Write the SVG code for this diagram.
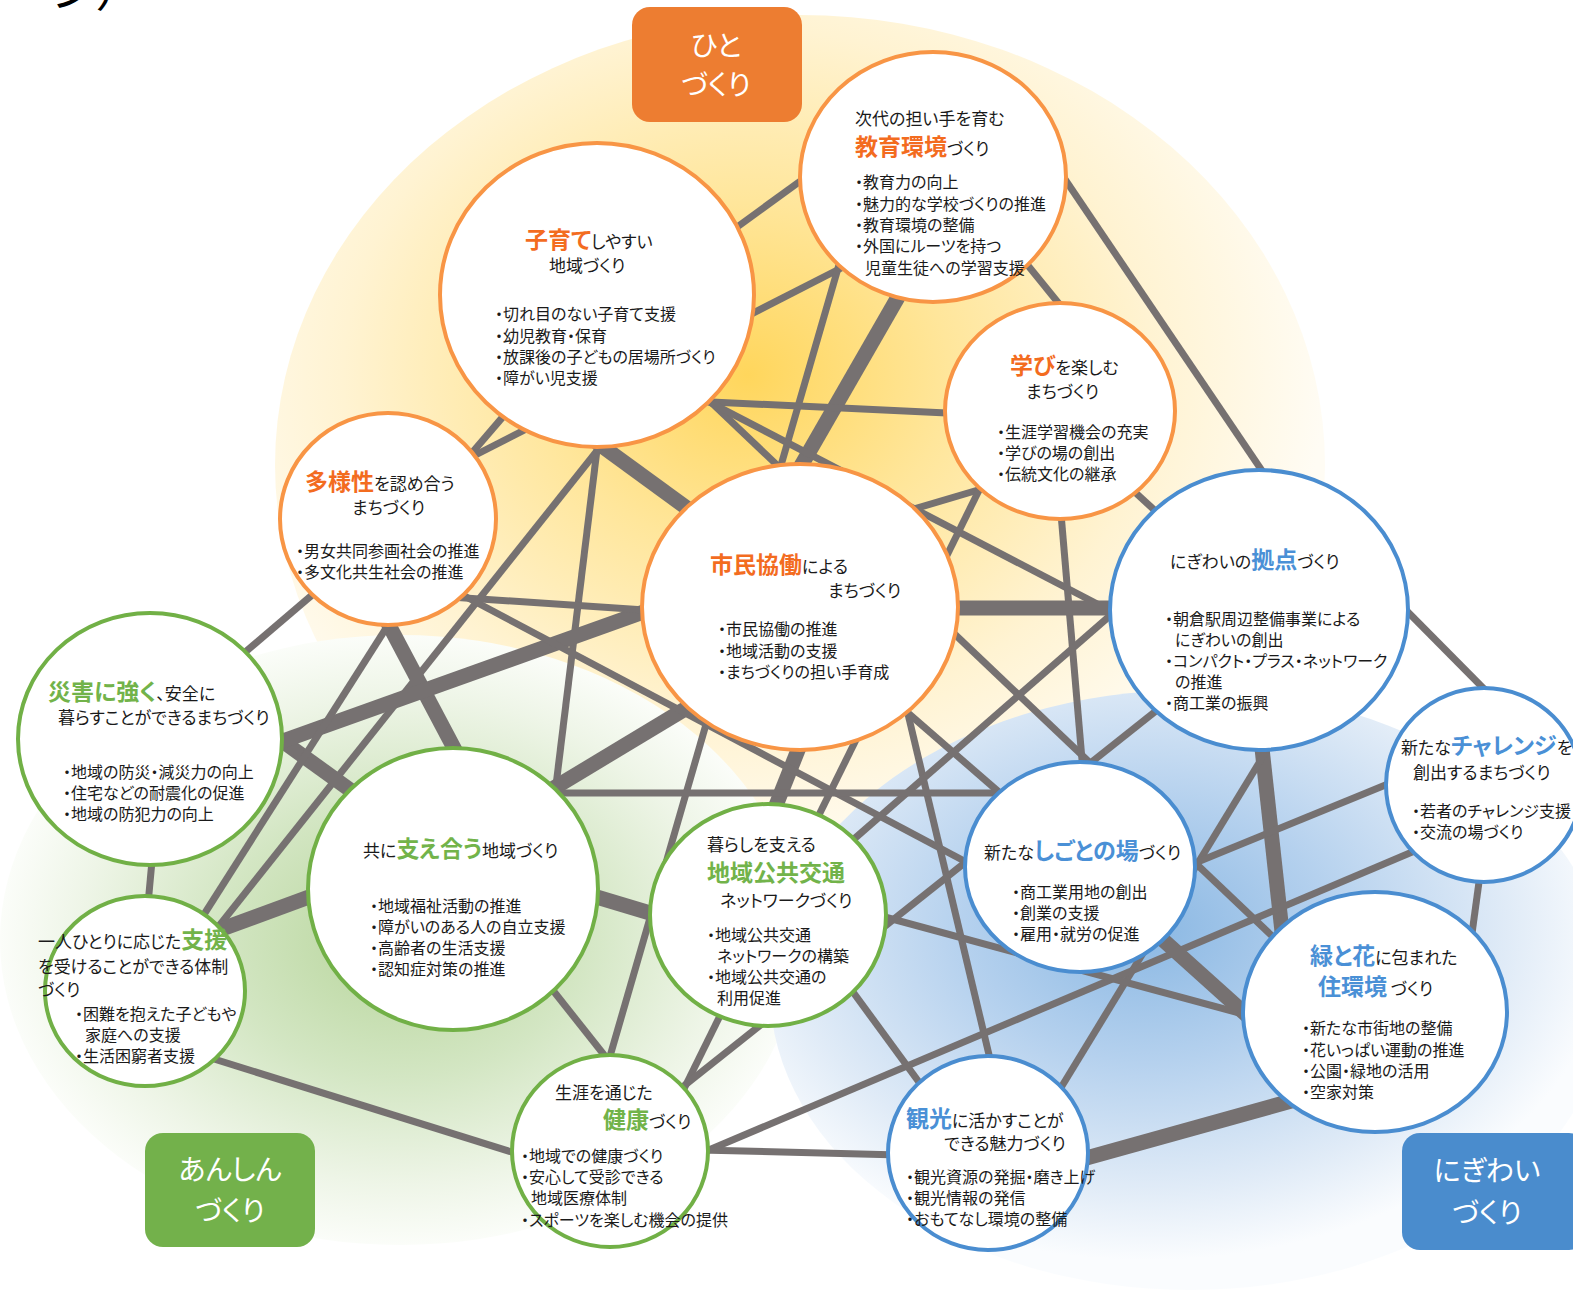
<svg xmlns="http://www.w3.org/2000/svg" width="1573" height="1292" viewBox="0 0 1573 1292">
<defs>
<style>
.t{font-family:"Noto Sans CJK JP","Noto Sans",sans-serif;font-size:16px;fill:#1a1a1a;font-feature-settings:"palt" 1;}
.h{font-size:17px;}
.ko{font-size:23px;font-weight:bold;fill:#F36C1F;}
.kg{font-size:23px;font-weight:bold;fill:#72B34A;}
.kb{font-size:23px;font-weight:bold;fill:#4A90D6;}
.cat{font-family:"Noto Sans CJK JP","Noto Sans",sans-serif;font-size:28px;fill:#ffffff;text-anchor:middle;font-feature-settings:"palt" 1;}
.thin{stroke:#767171;stroke-width:7;fill:none;}
.thick{stroke:#767171;stroke-width:15;fill:none;}
.no{fill:#ffffff;stroke:#F89545;stroke-width:4;}
.ng{fill:#ffffff;stroke:#71B046;stroke-width:4;}
.nb{fill:#ffffff;stroke:#4A8DD0;stroke-width:4;}
</style>
<radialGradient id="gy" cx="0.45" cy="0.4" r="0.55">
<stop offset="0" stop-color="#FFD65C"/>
<stop offset="0.35" stop-color="#FFE69B"/>
<stop offset="0.7" stop-color="#FFF3D2"/>
<stop offset="1" stop-color="#FFFCF4"/>
</radialGradient>
<radialGradient id="gg" cx="0.5" cy="0.5" r="0.5">
<stop offset="0" stop-color="#B7D59B"/>
<stop offset="0.45" stop-color="#D3E6C3"/>
<stop offset="0.8" stop-color="#EEF5E7"/>
<stop offset="1" stop-color="#FBFDF9"/>
</radialGradient>
<radialGradient id="gb" cx="0.45" cy="0.4" r="0.55">
<stop offset="0" stop-color="#8BB8E3"/>
<stop offset="0.4" stop-color="#B5D1EE"/>
<stop offset="0.78" stop-color="#E0EBF7"/>
<stop offset="1" stop-color="#FAFCFE"/>
</radialGradient>
</defs>
<rect x="0" y="0" width="1573" height="1292" fill="#ffffff"/>
<g id="background">
<ellipse cx="800" cy="465" rx="525" ry="450" fill="url(#gy)"/>
<ellipse cx="400" cy="940" rx="400" ry="305" fill="url(#gg)"/>
<ellipse cx="1190" cy="990" rx="420" ry="300" fill="url(#gb)"/>
</g>
<text class="t" x="4" y="6" style="font-size:48px;fill:#000">ージ）</text>
<g id="categories">
<g id="cat-hito"><rect x="632" y="7" width="170" height="115" rx="18" fill="#ED7D31"/><text class="cat" x="716" y="56">ひと</text><text class="cat" x="716" y="95">づくり</text></g>
<g id="cat-anshin"><rect x="145" y="1133" width="170" height="114" rx="18" fill="#73B14B"/><text class="cat" x="230" y="1180">あんしん</text><text class="cat" x="230" y="1221">づくり</text></g>
<g id="cat-nigiwai"><rect x="1402" y="1133" width="185" height="117" rx="18" fill="#4A8CCD"/><text class="cat" x="1487" y="1181">にぎわい</text><text class="cat" x="1487" y="1223">づくり</text></g>
</g>
<g id="connectors">
<line class="thin" x1="722" y1="238" x2="817" y2="169"/>
<line class="thin" x1="448" y1="469" x2="855" y2="261"/>
<line class="thin" x1="453" y1="475" x2="513" y2="405"/>
<line class="thin" x1="843" y1="251" x2="604" y2="1077"/>
<line class="thick" x1="905" y1="285" x2="790" y2="485"/>
<line class="thin" x1="690" y1="401" x2="968" y2="414"/>
<line class="thin" x1="696" y1="388" x2="1291" y2="954"/>
<line class="thin" x1="692" y1="393" x2="1130" y2="621"/>
<line class="thin" x1="1056" y1="166" x2="1273" y2="487"/>
<line class="thin" x1="1017" y1="252" x2="1073" y2="321"/>
<line class="thin" x1="1125" y1="483" x2="1175" y2="529"/>
<line class="thin" x1="995" y1="485" x2="897" y2="514"/>
<line class="thin" x1="988" y1="472" x2="677" y2="1103"/>
<line class="thin" x1="1060" y1="502" x2="1084" y2="783"/>
<line class="thick" x1="940" y1="608" x2="1130" y2="608"/>
<line class="thin" x1="1394" y1="598" x2="1497" y2="702"/>
<line class="thick" x1="1260" y1="730" x2="1284" y2="950"/>
<line class="thin" x1="670" y1="1097" x2="1171" y2="699"/>
<line class="thin" x1="1273" y1="740" x2="1051" y2="1104"/>
<line class="thin" x1="1178" y1="870" x2="1405" y2="777"/>
<line class="thin" x1="1431" y1="844" x2="690" y2="1158"/>
<line class="thin" x1="1482" y1="860" x2="1470" y2="948"/>
<line class="thick" x1="1072" y1="1162" x2="1302" y2="1098"/>
<line class="thin" x1="700" y1="1150" x2="900" y2="1155"/>
<line class="thin" x1="842" y1="977" x2="935" y2="1104"/>
<line class="thin" x1="903" y1="693" x2="995" y2="1080"/>
<line class="thin" x1="893" y1="700" x2="1015" y2="806"/>
<line class="thin" x1="1128" y1="600" x2="838" y2="853"/>
<line class="thin" x1="870" y1="913" x2="1265" y2="1020"/>
<line class="thick" x1="1152" y1="930" x2="1261" y2="1028"/>
<line class="thick" x1="804" y1="735" x2="769" y2="823"/>
<line class="thick" x1="580" y1="892" x2="670" y2="919"/>
<line class="thick" x1="534" y1="800" x2="700" y2="700"/>
<line class="thick" x1="584" y1="433" x2="706" y2="522"/>
<line class="thin" x1="600" y1="425" x2="553" y2="810"/>
<line class="thin" x1="207" y1="941" x2="616" y2="427"/>
<line class="thick" x1="381" y1="610" x2="464" y2="767"/>
<line class="thick" x1="267" y1="730" x2="371" y2="805"/>
<line class="thick" x1="266" y1="747" x2="663" y2="605"/>
<line class="thin" x1="230" y1="665" x2="325" y2="584"/>
<line class="thin" x1="397" y1="611" x2="196" y2="927"/>
<line class="thin" x1="450" y1="597" x2="660" y2="611"/>
<line class="thin" x1="455" y1="591" x2="985" y2="872"/>
<line class="thin" x1="545" y1="793" x2="1010" y2="793"/>
<line class="thin" x1="198" y1="1054" x2="534" y2="1159"/>
<line class="thin" x1="153" y1="850" x2="147" y2="915"/>
<line class="thick" x1="200" y1="937" x2="328" y2="890"/>
<line class="thin" x1="540" y1="974" x2="620" y2="1075"/>
</g>
<g id="node-kyoiku">
<ellipse class="no" cx="933" cy="177" rx="133" ry="125"/>
<text class="t h" x="855" y="125">次代の担い手を育む</text>
<text class="t h" x="855" y="155"><tspan class="ko">教育環境</tspan>づくり</text>
<text class="t" x="855" y="188">・教育力の向上</text>
<text class="t" x="855" y="210">・魅力的な学校づくりの推進</text>
<text class="t" x="855" y="231">・教育環境の整備</text>
<text class="t" x="855" y="252">・外国にルーツを持つ</text>
<text class="t" x="865" y="274">児童生徒への学習支援</text>
</g>
<g id="node-kosodate">
<ellipse class="no" cx="597" cy="295" rx="157" ry="152"/>
<text class="t h" x="525" y="248"><tspan class="ko">子育て</tspan>しやすい</text>
<text class="t h" x="549" y="272">地域づくり</text>
<text class="t" x="495" y="320">・切れ目のない子育て支援</text>
<text class="t" x="495" y="342">・幼児教育・保育</text>
<text class="t" x="495" y="363">・放課後の子どもの居場所づくり</text>
<text class="t" x="495" y="384">・障がい児支援</text>
</g>
<g id="node-manabi">
<ellipse class="no" cx="1060" cy="411" rx="115" ry="108"/>
<text class="t h" x="1010" y="374"><tspan class="ko">学び</tspan>を楽しむ</text>
<text class="t h" x="1026" y="398">まちづくり</text>
<text class="t" x="997" y="438">・生涯学習機会の充実</text>
<text class="t" x="997" y="459">・学びの場の創出</text>
<text class="t" x="997" y="480">・伝統文化の継承</text>
</g>
<g id="node-tayosei">
<ellipse class="no" cx="388" cy="519" rx="108" ry="106"/>
<text class="t h" x="305" y="490"><tspan class="ko">多様性</tspan>を認め合う</text>
<text class="t h" x="352" y="514">まちづくり</text>
<text class="t" x="296" y="557">・男女共同参画社会の推進</text>
<text class="t" x="296" y="578">・多文化共生社会の推進</text>
</g>
<g id="node-kyodo">
<ellipse class="no" cx="800" cy="607" rx="158" ry="143"/>
<text class="t h" x="710" y="573"><tspan class="ko">市民協働</tspan>による</text>
<text class="t h" x="828" y="597">まちづくり</text>
<text class="t" x="718" y="635">・市民協働の推進</text>
<text class="t" x="718" y="657">・地域活動の支援</text>
<text class="t" x="718" y="678">・まちづくりの担い手育成</text>
</g>
<g id="node-kyoten">
<ellipse class="nb" cx="1259" cy="610" rx="149" ry="140"/>
<text class="t h" x="1170" y="568">にぎわいの<tspan class="kb">拠点</tspan>づくり</text>
<text class="t" x="1165" y="625">・朝倉駅周辺整備事業による</text>
<text class="t" x="1175" y="646">にぎわいの創出</text>
<text class="t" x="1165" y="667">・コンパクト・プラス・ネットワーク</text>
<text class="t" x="1175" y="688">の推進</text>
<text class="t" x="1165" y="709">・商工業の振興</text>
</g>
<g id="node-saigai">
<ellipse class="ng" cx="150" cy="739" rx="132" ry="126"/>
<text class="t h" x="48" y="700"><tspan class="kg">災害に強く</tspan>、安全に</text>
<text class="t h" x="58" y="724">暮らすことができるまちづくり</text>
<text class="t" x="63" y="778">・地域の防災・減災力の向上</text>
<text class="t" x="63" y="799">・住宅などの耐震化の促進</text>
<text class="t" x="63" y="820">・地域の防犯力の向上</text>
</g>
<g id="node-sasaeau">
<ellipse class="ng" cx="453" cy="889" rx="145" ry="141"/>
<text class="t h" x="363" y="857">共に<tspan class="kg">支え合う</tspan>地域づくり</text>
<text class="t" x="370" y="912">・地域福祉活動の推進</text>
<text class="t" x="370" y="933">・障がいのある人の自立支援</text>
<text class="t" x="370" y="954">・高齢者の生活支援</text>
<text class="t" x="370" y="975">・認知症対策の推進</text>
</g>
<g id="node-kotsu">
<ellipse class="ng" cx="768" cy="915" rx="118" ry="111"/>
<text class="t h" x="707" y="851">暮らしを支える</text>
<text class="t kg" x="707" y="881">地域公共交通</text>
<text class="t h" x="720" y="907">ネットワークづくり</text>
<text class="t" x="707" y="941">・地域公共交通</text>
<text class="t" x="717" y="962">ネットワークの構築</text>
<text class="t" x="707" y="983">・地域公共交通の</text>
<text class="t" x="717" y="1004">利用促進</text>
</g>
<g id="node-shigoto">
<ellipse class="nb" cx="1080" cy="867" rx="115" ry="105"/>
<text class="t h" x="984" y="859">新たな<tspan class="kb">しごとの場</tspan>づくり</text>
<text class="t" x="1012" y="898">・商工業用地の創出</text>
<text class="t" x="1012" y="919">・創業の支援</text>
<text class="t" x="1012" y="940">・雇用・就労の促進</text>
</g>
<g id="node-challenge">
<ellipse class="nb" cx="1484" cy="785" rx="98" ry="97"/>
<text class="t h" x="1401" y="754">新たな<tspan class="kb">チャレンジ</tspan>を</text>
<text class="t h" x="1413" y="779">創出するまちづくり</text>
<text class="t" x="1412" y="817">・若者のチャレンジ支援</text>
<text class="t" x="1412" y="838">・交流の場づくり</text>
</g>
<g id="node-shien">
<ellipse class="ng" cx="145" cy="991" rx="100" ry="95"/>
<text class="t h" x="38" y="948">一人ひとりに応じた<tspan class="kg">支援</tspan></text>
<text class="t h" x="38" y="973">を受けることができる体制</text>
<text class="t h" x="38" y="996">づくり</text>
<text class="t" x="75" y="1020">・困難を抱えた子どもや</text>
<text class="t" x="85" y="1041">家庭への支援</text>
<text class="t" x="75" y="1062">・生活困窮者支援</text>
</g>
<g id="node-midori">
<ellipse class="nb" cx="1375" cy="1012" rx="132" ry="120"/>
<text class="t h" x="1310" y="964"><tspan class="kb">緑と花</tspan>に包まれた</text>
<text class="t h" x="1318" y="995"><tspan class="kb">住環境</tspan> づくり</text>
<text class="t" x="1302" y="1034">・新たな市街地の整備</text>
<text class="t" x="1302" y="1056">・花いっぱい運動の推進</text>
<text class="t" x="1302" y="1077">・公園・緑地の活用</text>
<text class="t" x="1302" y="1098">・空家対策</text>
</g>
<g id="node-kenko">
<ellipse class="ng" cx="610" cy="1151" rx="98" ry="96"/>
<text class="t h" x="555" y="1099">生涯を通じた</text>
<text class="t h" x="603" y="1128"><tspan class="kg">健康</tspan>づくり</text>
<text class="t" x="521" y="1162">・地域での健康づくり</text>
<text class="t" x="521" y="1183">・安心して受診できる</text>
<text class="t" x="531" y="1204">地域医療体制</text>
<text class="t" x="521" y="1226">・スポーツを楽しむ機会の提供</text>
</g>
<g id="node-kanko">
<ellipse class="nb" cx="988" cy="1153" rx="100" ry="97"/>
<text class="t h" x="906" y="1127"><tspan class="kb">観光</tspan>に活かすことが</text>
<text class="t h" x="944" y="1150">できる魅力づくり</text>
<text class="t" x="906" y="1183">・観光資源の発掘・磨き上げ</text>
<text class="t" x="906" y="1204">・観光情報の発信</text>
<text class="t" x="906" y="1225">・おもてなし環境の整備</text>
</g>
</svg>
